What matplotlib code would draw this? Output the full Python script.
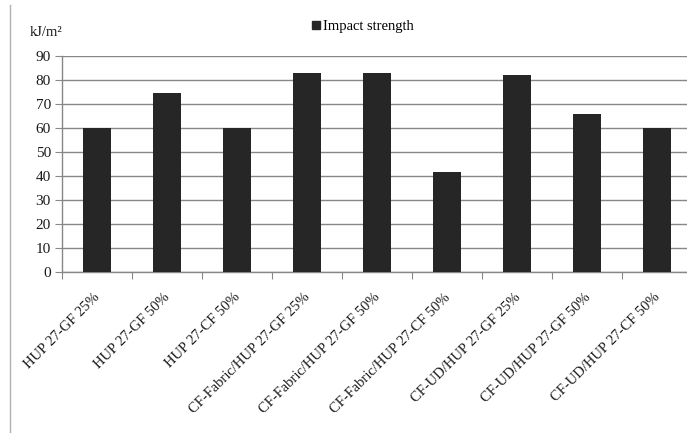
import matplotlib.pyplot as plt
from matplotlib.lines import Line2D

plt.rcParams['font.family'] = ['Liberation Serif', 'DejaVu Serif']

categories = [
    "HUP 27-GF 25%", "HUP 27-GF 50%", "HUP 27-CF 50%",
    "CF-Fabric/HUP 27-GF 25%", "CF-Fabric/HUP 27-GF 50%", "CF-Fabric/HUP 27-CF 50%",
    "CF-UD/HUP 27-GF 25%", "CF-UD/HUP 27-GF 50%", "CF-UD/HUP 27-CF 50%",
]
impact_strength = [60, 74.5, 60, 83, 83, 41.5, 82, 66, 60]
y_ticks = list(range(0, 100, 10))

W, H = 687, 433
fig = plt.figure(figsize=(W / 100, H / 100), dpi=100)
# plot area runs slightly past the right edge of the figure
left, right, top, bottom = 62, 692, 56, 272
ax = fig.add_axes([left / W, 1 - bottom / H, (right - left) / W, (bottom - top) / H])

grid_col = '#878787'
x = range(len(categories))
ax.bar(x, impact_strength, width=0.4, color='#262626', zorder=3)
ax.set_xlim(-0.5, len(categories) - 0.5)
ax.set_ylim(0, 90)
ax.set_yticks(y_ticks)
ax.yaxis.grid(True, color=grid_col, linewidth=1.0, zorder=0)

for side in ('top', 'right'):
    ax.spines[side].set_visible(False)
for side in ('left', 'bottom'):
    ax.spines[side].set_color(grid_col)
    ax.spines[side].set_linewidth(1.0)

# category boundaries as tick marks
ax.set_xticks([i - 0.5 for i in range(len(categories) + 1)], minor=False)
ax.set_xticklabels([])
ax.tick_params(axis='x', length=5, color=grid_col, direction='out')
ax.tick_params(axis='y', length=5, color=grid_col, labelsize=11, pad=3)
for lab in ax.get_yticklabels():
    lab.set_color('#1a1a1a')

for i, name in enumerate(categories):
    ax.annotate(name, xy=(i, 0), xycoords='data', xytext=(-2.5, -13.5), textcoords='offset points',
                rotation=45, ha='right', va='top', rotation_mode='anchor',
                fontsize=10.5, color='#1a1a1a')

fig.text(30 / W, 1 - 33 / H, 'kJ/m\u00b2', fontsize=10.5, va='center', ha='left', color='#1a1a1a')

handle = Line2D([], [], marker='s', linestyle='none', color='#262626', markersize=6)
fig.legend([handle], ['Impact strength'], loc='center left', bbox_to_anchor=(304 / W, 1 - 26 / H),
           frameon=False, fontsize=10.5, handletextpad=0.1, borderaxespad=0, handlelength=0.8)

# outer chart border (only the left edge is visible)
fig.add_artist(Line2D([10 / W, 10 / W], [0, 1 - 5 / H], transform=fig.transFigure,
                      color='#b0b0b0', linewidth=1.0))

fig.savefig('out.png', dpi=100)
